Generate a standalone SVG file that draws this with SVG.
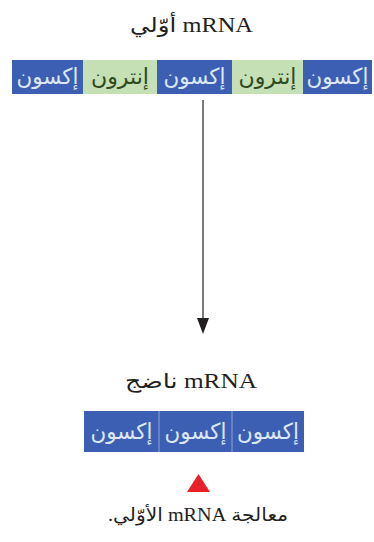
<svg xmlns="http://www.w3.org/2000/svg" width="374" height="542" viewBox="0 0 374 542">
<style>
.t{font-family:"Liberation Serif","DejaVu Sans",serif;fill:#231f20;text-anchor:middle}
.ttl{font-size:20px}
.b{fill:#3d5fb3}
.g{fill:#c5e0b4}
.bt,.gt{font-family:"Liberation Serif","DejaVu Sans",serif;font-size:22px;text-anchor:middle}
.bt{fill:#dce7f5}
.gt{fill:#2f4a1e}
.sep{stroke:#8fa3d6;stroke-width:1}
</style>
<g id="title1"><text class="t ttl" x="191.5" y="32" direction="rtl" textLength="123" lengthAdjust="spacingAndGlyphs">mRNA أوّلي</text></g>
<g id="premrna">
<rect class="b" x="12" y="60" width="71" height="34"/>
<rect class="g" x="83" y="60" width="74" height="34"/>
<rect class="b" x="157" y="60" width="75" height="34"/>
<rect class="g" x="232" y="60" width="71" height="34"/>
<rect class="b" x="303" y="60" width="69" height="34"/>
<text class="bt" x="47.5" y="84" textLength="62" lengthAdjust="spacingAndGlyphs">إكسون</text>
<text class="gt" x="120" y="84" textLength="58" lengthAdjust="spacingAndGlyphs">إنترون</text>
<text class="bt" x="194.5" y="84" textLength="62" lengthAdjust="spacingAndGlyphs">إكسون</text>
<text class="gt" x="267.5" y="84" textLength="58" lengthAdjust="spacingAndGlyphs">إنترون</text>
<text class="bt" x="337.5" y="84" textLength="62" lengthAdjust="spacingAndGlyphs">إكسون</text>
</g>
<g id="connectors">
<line x1="203" y1="100" x2="203" y2="320" stroke="#231f20" stroke-width="1.2"/>
<polygon points="197,318 209,318 203,334" fill="#231f20"/>
</g>
<g id="title2"><text class="t ttl" x="191" y="388" direction="rtl" textLength="132" lengthAdjust="spacingAndGlyphs">mRNA ناضج</text></g>
<g id="mrna">
<rect class="b" x="84" y="411" width="220" height="41"/>
<line class="sep" x1="159" y1="411" x2="159" y2="452"/>
<line class="sep" x1="232" y1="411" x2="232" y2="452"/>
<text class="bt" x="121.5" y="439" textLength="62" lengthAdjust="spacingAndGlyphs">إكسون</text>
<text class="bt" x="195.5" y="439" textLength="62" lengthAdjust="spacingAndGlyphs">إكسون</text>
<text class="bt" x="268" y="439" textLength="62" lengthAdjust="spacingAndGlyphs">إكسون</text>
</g>
<g id="marker"><polygon points="187,492 210,492 198.5,474" fill="#e8202a"/></g>
<g id="caption"><text class="t" style="font-size:18px" x="198" y="521" direction="rtl" textLength="180" lengthAdjust="spacingAndGlyphs">معالجة mRNA الأوّلي.</text></g>
</svg>
